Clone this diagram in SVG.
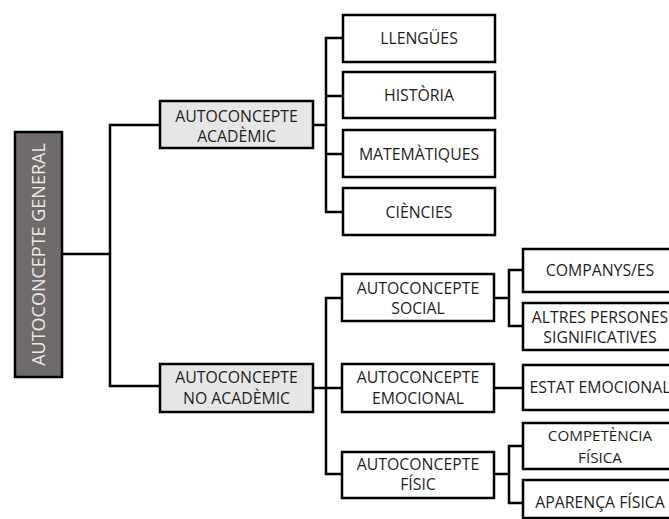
<svg xmlns="http://www.w3.org/2000/svg" width="669" height="519" viewBox="0 0 669 519">
<style>
.b{fill:#fff;stroke:#000;stroke-width:2.5}
.g{fill:#e6e6e6;stroke:#000;stroke-width:2.5}
.r{fill:#706b6b;stroke:#000;stroke-width:2.5}
text{font-family:"Open Sans","Noto Sans",sans-serif;font-size:15.8px;fill:#1e1e1e;text-anchor:middle}
.w{fill:#e8e8e8;font-size:18px}
.s{font-size:15.2px}
.c{fill:none;stroke:#000;stroke-width:2.5}
</style>
<rect width="669" height="519" fill="#fff"/>
<g id="connectors">
<path class="c" d="M62,254H110M160,125H110V386H160"/>
<path class="c" d="M313,125H326M343,38H326V212H343M326,96H343M326,154H343"/>
<path class="c" d="M313,388H326M342,298H326V474H342M326,388H342"/>
<path class="c" d="M494,298H509M523,270H509V326H523"/>
<path class="c" d="M494,388H523"/>
<path class="c" d="M494,474H509M523,446H509V503H523"/>
</g>
<g id="root"><rect class="r" x="15" y="132" width="47" height="245"/><text class="w" transform="translate(45,254.5) rotate(-90)">AUTOCONCEPTE GENERAL</text></g>
<g id="academic"><rect class="g" x="160" y="101" width="153" height="47"/><text x="236.5" y="121.5">AUTOCONCEPTE</text><text x="236.5" y="141.5">ACADÈMIC</text></g>
<g id="noacademic"><rect class="g" x="160" y="364" width="153" height="48"/><text x="236.5" y="383">AUTOCONCEPTE</text><text x="236.5" y="404">NO ACADÈMIC</text></g>
<g id="llengues"><rect class="b" x="343" y="15" width="152" height="47"/><text x="419" y="44">LLENGÜES</text></g>
<g id="historia"><rect class="b" x="343" y="72" width="152" height="46"/><text x="419" y="101">HISTÒRIA</text></g>
<g id="matematiques"><rect class="b" x="343" y="130" width="152" height="47"/><text x="419" y="159.5">MATEMÀTIQUES</text></g>
<g id="ciencies"><rect class="b" x="343" y="188" width="152" height="47"/><text x="419" y="217.5">CIÈNCIES</text></g>
<g id="social"><rect class="b" x="342" y="274" width="152" height="47"/><text x="418" y="293.5">AUTOCONCEPTE</text><text x="418" y="313.5">SOCIAL</text></g>
<g id="emocional"><rect class="b" x="342" y="364" width="152" height="48"/><text x="418" y="383">AUTOCONCEPTE</text><text x="418" y="404">EMOCIONAL</text></g>
<g id="fisic"><rect class="b" x="342" y="452" width="152" height="46"/><text x="418" y="470">AUTOCONCEPTE</text><text x="418" y="490">FÍSIC</text></g>
<g id="companys"><rect class="b" x="523" y="249" width="154" height="43"/><text x="600" y="275.5">COMPANYS/ES</text></g>
<g id="altres"><rect class="b" x="523" y="303" width="154" height="47"/><text x="600" y="323">ALTRES PERSONES</text><text x="600" y="343">SIGNIFICATIVES</text></g>
<g id="estat"><rect class="b" x="523" y="365" width="154" height="45"/><text x="600" y="393">ESTAT EMOCIONAL</text></g>
<g id="competencia"><rect class="b" x="523" y="423" width="154" height="46"/><text class="s" x="600" y="441">COMPETÈNCIA</text><text class="s" x="600" y="463">FÍSICA</text></g>
<g id="aparenca"><rect class="b" x="523" y="480" width="154" height="38"/><text x="600" y="508">APARENÇA FÍSICA</text></g>
</svg>
